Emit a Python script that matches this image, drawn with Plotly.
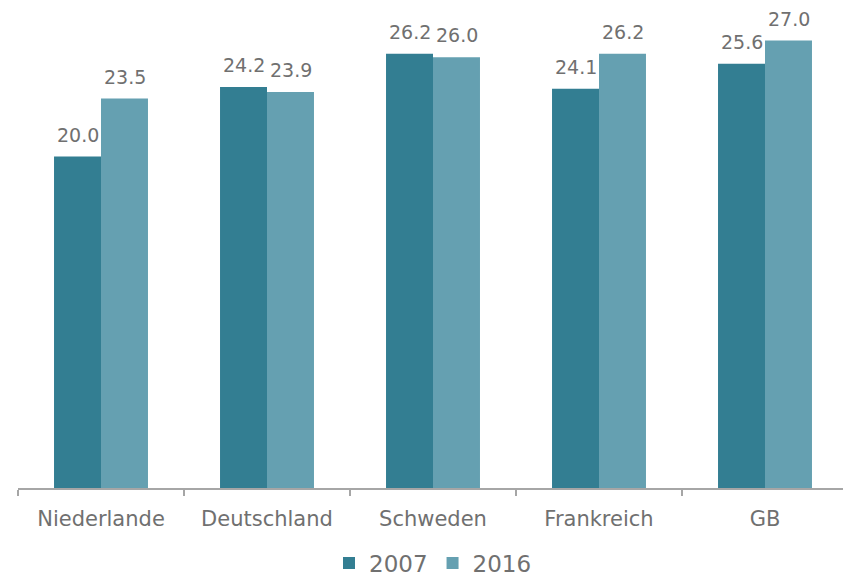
import plotly.graph_objects as go

categories = ["Niederlande", "Deutschland", "Schweden", "Frankreich", "GB"]
values_2007 = [20.0, 24.2, 26.2, 24.1, 25.6]
values_2016 = [23.5, 23.9, 26.0, 26.2, 27.0]
series_names = ["2007", "2016"]
colors = ["#337e92", "#65a0b1"]

txt = "#707070"
fig = go.Figure()
for name, vals, col in [(series_names[0], values_2007, colors[0]), (series_names[1], values_2016, colors[1])]:
    fig.add_trace(go.Bar(
        x=categories, y=vals, name=name,
        marker=dict(color=col, line=dict(width=0)),
    ))

# data labels as annotations (extra padding above bars)
for vals, xs in [(values_2007, -23.5), (values_2016, 23.5)]:
    for c, v in zip(categories, vals):
        fig.add_annotation(x=c, y=v, text=f"{v:.1f}", showarrow=False,
                           xshift=xs, yshift=9, yanchor="bottom",
                           font=dict(size=19, color=txt, family="DejaVu Sans"))

fig.update_layout(
    width=843, height=579,
    margin=dict(l=10, r=3, t=16, b=99),
    paper_bgcolor="white", plot_bgcolor="white",
    barmode="group", bargap=0.434, bargroupgap=0,
    font=dict(family="DejaVu Sans", color=txt, size=18),
    xaxis=dict(
        showline=True, linecolor="#a6a6a6", linewidth=2,
        ticks="outside", tickson="boundaries", ticklen=6, tickcolor="#a6a6a6", tickwidth=2,
        tickfont=dict(size=21, color=txt), ticklabelstandoff=11,
    ),
    yaxis=dict(range=[0, 28], visible=False),
    legend=dict(orientation="h", x=0.5, xanchor="center", yref="container",
                y=24 / 579, yanchor="middle",
                font=dict(size=23, color=txt), itemwidth=30),
    showlegend=True,
)
fig.write_html("out.html")
